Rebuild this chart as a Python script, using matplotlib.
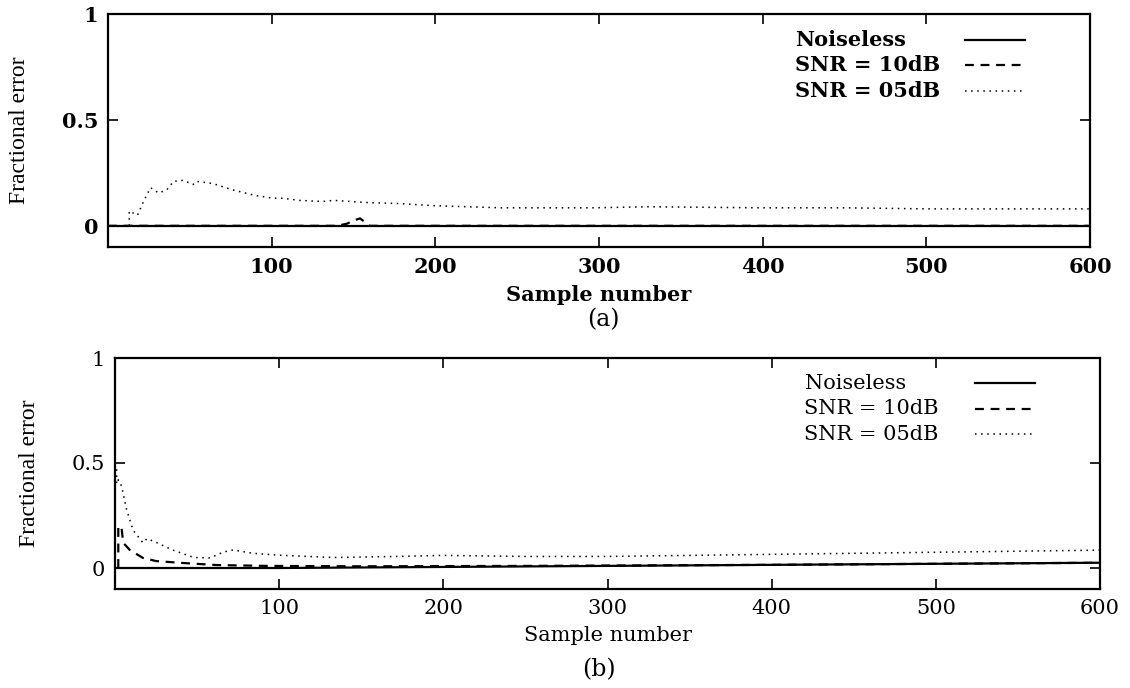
import matplotlib.pyplot as plt
import numpy as np

# panel (a) values
a_x_clean = [0, 600]
a_y_clean = [0.0, 0.0]
a_x_10db = [0, 140, 146, 150, 154, 160, 600]
a_y_10db = [0.0, 0.0, 0.01, 0.025, 0.035, 0.0, 0.0]
a_x_05db = [13, 13, 18, 22, 26, 31, 36, 40, 46, 52, 54, 64, 76, 89, 101, 107, 117,
            131, 138, 158, 178, 199, 240, 296, 330, 400, 450, 500, 550, 600]
a_y_05db = [0.0, 0.07, 0.05, 0.12, 0.18, 0.155, 0.17, 0.21, 0.215, 0.195, 0.21, 0.20,
            0.17, 0.145, 0.13, 0.13, 0.12, 0.115, 0.12, 0.11, 0.105, 0.095, 0.085,
            0.085, 0.09, 0.085, 0.085, 0.08, 0.08, 0.08]

# panel (b)
b_x_clean = [0, 100, 200, 300, 400, 500, 600]
b_y_clean = [0.0, 0.0, 0.005, 0.01, 0.015, 0.02, 0.025]
b_x_10db = [2, 2, 4, 5, 9, 17, 25, 41, 62, 93, 150, 250, 400, 600]
b_y_10db = [0.0, 0.2, 0.19, 0.12, 0.086, 0.048, 0.033, 0.024, 0.014, 0.01, 0.008,
            0.01, 0.015, 0.025]
b_x_05db = [1, 1, 2, 4, 7, 11, 17, 19.5, 25.6, 35, 48, 58, 66, 72, 84, 102, 133,
            172, 200, 250, 300, 350, 400, 450, 500, 550, 600]
b_y_05db = [0.47, 0.40, 0.42, 0.39, 0.28, 0.18, 0.12, 0.14, 0.12, 0.086, 0.05, 0.048,
            0.076, 0.086, 0.07, 0.06, 0.05, 0.055, 0.06, 0.055, 0.055, 0.06, 0.065,
            0.07, 0.075, 0.08, 0.085]

labels = ['Noiseless', 'SNR = 10dB', 'SNR = 05dB']
xticks = [100, 200, 300, 400, 500, 600]
yticks = [0, 0.5, 1]
ytick_labels = ['0', '0.5', '1']

serif = 'DejaVu Serif'

fig = plt.figure(figsize=(11.3, 6.88), dpi=100)
ax_a = fig.add_axes([108 / 1130, 1 - 247 / 688, 982 / 1130, 233 / 688])
ax_b = fig.add_axes([115 / 1130, 1 - 589 / 688, 985 / 1130, 231 / 688])

panels = [
    (ax_a, a_x_clean, a_y_clean, a_x_10db, a_y_10db, a_x_05db, a_y_05db, 'bold'),
    (ax_b, b_x_clean, b_y_clean, b_x_10db, b_y_10db, b_x_05db, b_y_05db, 'normal'),
]

styles = [
    dict(color='black', lw=1.6, ls='-'),
    dict(color='black', lw=1.6, ls=(0, (4, 3))),
    dict(color='black', lw=1.1, ls=(0, (1, 3))),
]

for ax, xc, yc, x10, y10, x05, y05, wt in panels:
    series = [(xc, yc), (x10, y10), (x05, y05)]
    for (xs, ys), st, lab in zip(series, styles, labels):
        ax.plot(xs, ys, label=lab, **st)
    ax.set_xlim(0, 600)
    ax.set_ylim(-0.1, 1.0)
    ax.set_xticks(xticks)
    ax.set_yticks(yticks)
    ax.set_yticklabels(ytick_labels)
    ax.tick_params(direction='in', length=7, width=1.2, top=True, right=True,
                   pad=7)
    for lab in ax.get_xticklabels() + ax.get_yticklabels():
        lab.set_fontfamily(serif)
        lab.set_fontsize(15)
        lab.set_fontweight(wt)
    for sp in ax.spines.values():
        sp.set_linewidth(1.6)
    ax.set_ylabel('Fractional error', family='Liberation Serif', fontsize=17,
                  labelpad=23)
    ax.set_xlabel('Sample number', family=serif, fontsize=15,
                  fontweight=wt, labelpad=6)

    # legend drawn gnuplot-style: text on the left, sample line on the right
    for i, (lab, st) in enumerate(zip(labels, styles)):
        yy = 0.89 - i * 0.11
        ax.text(0.70, yy, lab, transform=ax.transAxes, ha='left', va='center',
                family=serif, fontsize=15, fontweight=wt)
        ax.plot([0.873, 0.934], [yy, yy], transform=ax.transAxes, **st)

fig.text(0.534, 1 - 320 / 688, '(a)', ha='center', va='center',
         family=serif, fontsize=17)
fig.text(0.53, 1 - 670 / 688, '(b)', ha='center', va='center',
         family=serif, fontsize=17)

fig.savefig('out.png', dpi=100)
